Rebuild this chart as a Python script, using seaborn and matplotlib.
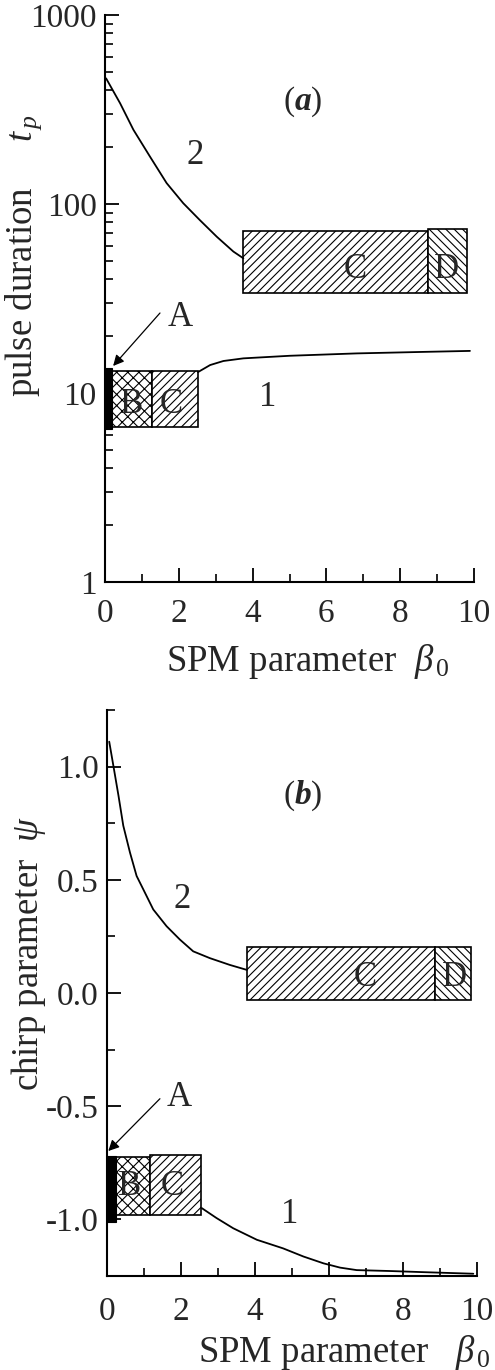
import numpy as np
import pandas as pd
import matplotlib
matplotlib.use("Agg")
import matplotlib.pyplot as plt
from matplotlib.ticker import NullFormatter, FixedLocator
import seaborn as sns

# ---------------- data ----------------
# panel (a): pulse duration t_p vs SPM parameter beta_0
a_curve2_beta = [0.03, 0.41, 0.77, 1.22, 1.67, 2.12, 2.57, 3.03, 3.48, 3.75]
a_curve2_tp = [462, 341, 247, 178, 129, 101, 82.2, 67.1, 56.0, 51.6]
a_curve1_beta = [2.52, 2.85, 3.21, 3.75, 5.01, 6.82, 8.63, 9.89]
a_curve1_tp = [12.9, 14.06, 14.77, 15.25, 15.74, 16.2, 16.5, 16.7]

a_regions_name = ["A", "B", "C", "C", "D"]
a_regions_b0 = [0.0, 0.2, 1.27, 3.74, 8.75]
a_regions_b1 = [0.2, 1.27, 2.52, 8.75, 9.81]
a_regions_y0 = [6.45, 6.6, 6.6, 33.8, 33.8]
a_regions_y1 = [13.6, 13.1, 13.1, 72.0, 73.8]

# panel (b): chirp parameter psi vs beta_0
b_curve2_beta = [0.06, 0.17, 0.31, 0.44, 0.62, 0.80, 0.98, 1.25, 1.61, 1.97,
                 2.33, 2.78, 3.32, 3.78]
b_curve2_psi = [1.11, 1.006, 0.872, 0.739, 0.621, 0.517, 0.458, 0.369, 0.295,
                0.236, 0.184, 0.154, 0.124, 0.102]
b_curve1_beta = [2.56, 2.96, 3.41, 4.05, 4.76, 5.31, 5.85, 6.30, 6.75, 7.65,
                 8.55, 9.90]
b_curve1_psi = [-0.950, -0.994, -1.039, -1.090, -1.128, -1.164, -1.194,
                -1.213, -1.224, -1.228, -1.233, -1.240]

b_regions_name = ["A", "B", "C", "C", "D"]
b_regions_b0 = [0.0, 0.24, 1.16, 3.78, 8.86]
b_regions_b1 = [0.24, 1.16, 2.54, 8.86, 9.84]
b_regions_y0 = [-1.01, -0.982, -0.982, -0.03, -0.03]
b_regions_y1 = [-0.72, -0.724, -0.716, 0.204, 0.204]

x_ticks = [0, 2, 4, 6, 8, 10]
x_minor = [1, 3, 5, 7, 9]
a_y_ticks = [1, 10, 100, 1000]
a_y_ticklabels = ["1", "10", "100", "1000"]
a_y_minor = [2, 3, 4, 5, 6, 7, 8, 9, 20, 30, 40, 50, 60, 70, 80, 90,
             200, 300, 400, 500, 600, 700, 800, 900]
b_y_ticks = [-1.0, -0.5, 0.0, 0.5, 1.0]
b_y_ticklabels = ["-1.0", "-0.5", "0.0", "0.5", "1.0"]
b_y_minor = [-1.25, -0.75, -0.25, 0.25, 0.75, 1.25]

# ---------------- style ----------------
sns.set_style("ticks")
plt.rcParams["font.family"] = ["Liberation Serif", "DejaVu Serif"]
plt.rcParams["mathtext.fontset"] = "custom"
plt.rcParams["mathtext.rm"] = "Liberation Serif"
plt.rcParams["mathtext.it"] = "Liberation Serif:italic"
plt.rcParams["mathtext.bf"] = "Liberation Serif:bold:italic"
plt.rcParams["hatch.linewidth"] = 0.8

FS = 24
LFS = 26.5
fig = plt.figure(figsize=(4.95, 13.7), dpi=100)
ax1 = fig.add_axes([105 / 495, 1 - 582 / 1370, 369 / 495, 567 / 1370])
ax2 = fig.add_axes([107 / 495, 1 - 1276 / 1370, 370 / 495, 566 / 1370])

hatches = {"A": None, "B": "xxx", "C": "////", "D": "\\\\\\\\"}


def draw_regions(ax, names, b0, b1, y0, y1):
    for n, x0, x1, lo, hi in zip(names, b0, b1, y0, y1):
        if n == "A":
            ax.bar(x0, hi - lo, width=x1 - x0, bottom=lo, align="edge",
                   color="black", edgecolor="black", linewidth=0.8, zorder=3)
        else:
            ax.bar(x0, hi - lo, width=x1 - x0, bottom=lo, align="edge",
                   color="white", edgecolor="black", hatch=hatches[n],
                   linewidth=1.2, zorder=2)


def style_axis(ax, xpad, yminor):
    ax.spines["top"].set_visible(False)
    ax.spines["right"].set_visible(False)
    for s in ["left", "bottom"]:
        ax.spines[s].set_linewidth(1.5)
        ax.spines[s].set_color("black")
    ax.set_xlim(0, 10)
    ax.set_xticks(x_ticks)
    ax.set_xticklabels([str(t) for t in x_ticks])
    ax.xaxis.set_minor_locator(FixedLocator(x_minor))
    ax.yaxis.set_minor_locator(FixedLocator(yminor))
    ax.yaxis.set_minor_formatter(NullFormatter())
    ax.xaxis.set_minor_formatter(NullFormatter())
    ax.tick_params(which="both", direction="in", color="black",
                   left=True, bottom=True, right=False, top=False)
    ax.tick_params(which="major", length=10, width=1.3, labelsize=FS)
    ax.tick_params(axis="y", which="major", pad=6)
    ax.tick_params(axis="x", which="major", pad=xpad)
    ax.tick_params(which="minor", length=6, width=1.2)


def arrow(ax, tail, tip):
    ax.annotate("", xy=tip, xytext=tail,
                arrowprops=dict(arrowstyle="-|>", color="black", lw=0.9,
                                shrinkA=0, shrinkB=0, mutation_scale=16),
                zorder=6)


# ---- panel (a) ----
ax1.set_yscale("log")
draw_regions(ax1, a_regions_name, a_regions_b0, a_regions_b1, a_regions_y0, a_regions_y1)
sns.lineplot(x=a_curve2_beta, y=a_curve2_tp, ax=ax1, color="black", lw=1.3, zorder=4)
sns.lineplot(x=a_curve1_beta, y=a_curve1_tp, ax=ax1, color="black", lw=1.3, zorder=4)
ax1.set_ylim(1, 1000)
ax1.set_yticks(a_y_ticks)
ax1.set_yticklabels(a_y_ticklabels)
style_axis(ax1, 12, a_y_minor)
ax1.set_xlabel(r"SPM parameter  $\beta_{\,0}$", fontsize=LFS)
ax1.xaxis.set_label_coords(0.55, -0.105)
ax1.set_ylabel(r"pulse duration     $t_{\,p}$", fontsize=LFS)
ax1.yaxis.set_label_coords(-0.165, 0.575)

ax1.text(5.37, 347, r"($\mathbf{a}$)", fontsize=FS, ha="center", va="center")
ax1.text(2.44, 181, "2", fontsize=FS + 1, ha="center", va="center")
ax1.text(4.42, 9.5, "1", fontsize=FS + 1, ha="center", va="center")
ax1.text(0.73, 8.7, "B", fontsize=FS + 1, ha="center", va="center", zorder=5)
ax1.text(1.8, 8.7, "C", fontsize=FS + 1, ha="center", va="center", zorder=5)
ax1.text(6.78, 44.8, "C", fontsize=FS + 1, ha="center", va="center", zorder=5)
ax1.text(9.25, 44.8, "D", fontsize=FS + 1, ha="center", va="center", zorder=5)
ax1.text(2.05, 25, "A", fontsize=FS + 1, ha="center", va="center")
arrow(ax1, (1.49, 26.5), (0.22, 13.9))

# ---- panel (b) ----
draw_regions(ax2, b_regions_name, b_regions_b0, b_regions_b1, b_regions_y0, b_regions_y1)
sns.lineplot(x=b_curve2_beta, y=b_curve2_psi, ax=ax2, color="black", lw=1.3, zorder=4)
sns.lineplot(x=b_curve1_beta, y=b_curve1_psi, ax=ax2, color="black", lw=1.3, zorder=4)
ax2.set_ylim(-1.25, 1.25)
ax2.set_yticks(b_y_ticks)
ax2.set_yticklabels(b_y_ticklabels)
style_axis(ax2, 15, b_y_minor)
ax2.set_xlabel(r"SPM parameter   $\beta_{\,0}$", fontsize=LFS)
ax2.xaxis.set_label_coords(0.64, -0.1)
ax2.set_ylabel(r"chirp parameter  $\psi$", fontsize=LFS)
ax2.yaxis.set_label_coords(-0.16, 0.57)

ax2.text(5.3, 0.87, r"($\mathbf{b}$)", fontsize=FS, ha="center", va="center")
ax2.text(2.03, 0.413, "2", fontsize=FS + 1, ha="center", va="center")
ax2.text(4.95, -0.98, "1", fontsize=FS + 1, ha="center", va="center")
ax2.text(0.62, -0.853, "B", fontsize=FS + 1, ha="center", va="center", zorder=5)
ax2.text(1.76, -0.853, "C", fontsize=FS + 1, ha="center", va="center", zorder=5)
ax2.text(6.97, 0.067, "C", fontsize=FS + 1, ha="center", va="center", zorder=5)
ax2.text(9.4, 0.067, "D", fontsize=FS + 1, ha="center", va="center", zorder=5)
ax2.text(1.95, -0.46, "A", fontsize=FS + 1, ha="center", va="center")
arrow(ax2, (1.43, -0.467), (0.035, -0.698))

fig.savefig("out.png", dpi=100)
